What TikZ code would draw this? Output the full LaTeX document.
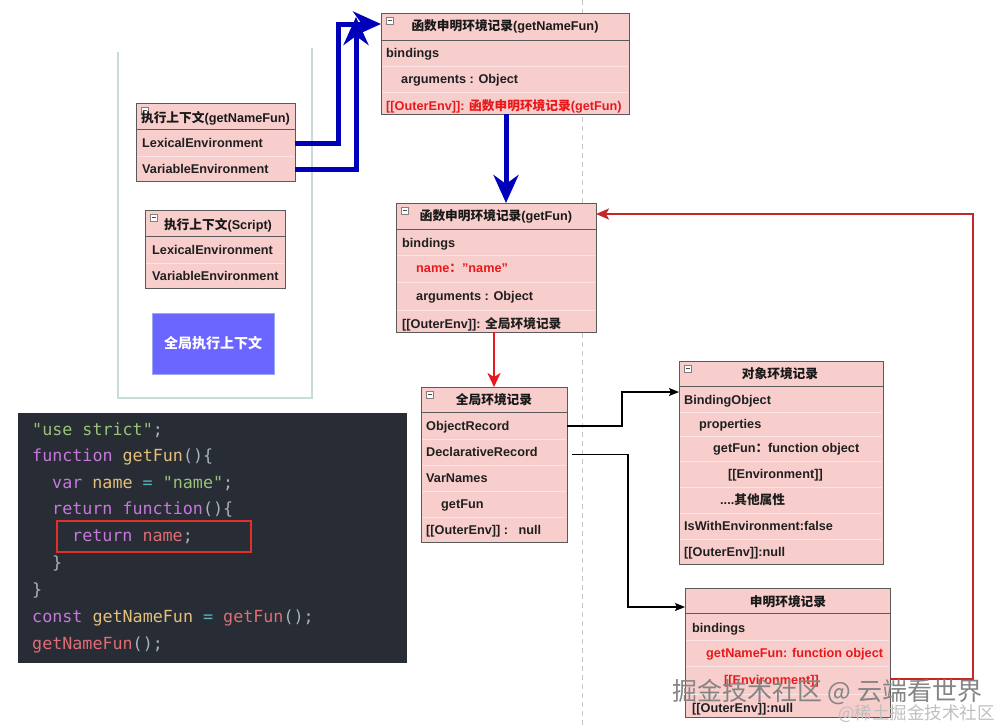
\documentclass[tikz,border=0pt]{standalone}
\usepackage{fontspec}
\setmainfont{Liberation Sans}
\newfontfamily\cjk{Noto Sans CJK SC}
\newfontfamily\codefont{DejaVu Sans Mono}
\usetikzlibrary{arrows.meta}
\definecolor{boxfill}{HTML}{F8CECC}
\definecolor{boxline}{HTML}{5A5A5A}
\definecolor{sepline}{HTML}{FBE4E3}
\definecolor{deepblue}{HTML}{0000BB}
\definecolor{brightred}{HTML}{E8191C}
\definecolor{loopred}{HTML}{C0282A}
\definecolor{txtred}{HTML}{E8191C}
\definecolor{ctnline}{HTML}{C6DCDA}
\definecolor{codebg}{HTML}{282C34}
\definecolor{ckw}{HTML}{C678DD}
\definecolor{cfn}{HTML}{E5C07B}
\definecolor{cstr}{HTML}{98C379}
\definecolor{cop}{HTML}{56B6C2}
\definecolor{crd}{HTML}{E06C75}
\definecolor{cpl}{HTML}{ABB2BF}
\definecolor{hfill}{HTML}{6B66FF}
\definecolor{hline}{HTML}{9AA8F0}
\definecolor{dashgray}{HTML}{C8C8C8}
\newcommand\cKw[1]{\textcolor{ckw}{#1}}
\newcommand\cFn[1]{\textcolor{cfn}{#1}}
\newcommand\cStr[1]{\textcolor{cstr}{#1}}
\newcommand\cOp[1]{\textcolor{cop}{#1}}
\newcommand\cRd[1]{\textcolor{crd}{#1}}
\newcommand\cPl[1]{\textcolor{cpl}{#1}}
\tikzset{
  recbox/.style={draw=boxline, fill=boxfill, line width=1pt, inner sep=0pt, outer sep=0pt},
  hdrline/.style={draw=boxline, line width=1pt},
  sepl/.style={draw=sepline, line width=0.8pt},
  iconbox/.style={draw=gray, fill=white, line width=0.6pt},
  iconbar/.style={draw=black!70, line width=0.8pt},
  rowtxt/.style={anchor=base west, inner sep=0pt, font=\fontsize{12.7}{14}\selectfont\bfseries, text=black!88},
  redtxt/.style={rowtxt, text=txtred},
  hdrtxt/.style={anchor=base, inner sep=0pt, font=\fontsize{12.7}{14}\selectfont\bfseries, text=black!90},
  codetxt/.style={anchor=base west, inner sep=0pt, font=\codefont\fontsize{16.7}{18}\selectfont, text=cpl},
  bluearr/.style={draw=deepblue, line width=5pt, -{Stealth[length=28pt,width=25pt,inset=9pt]}},
  redarr/.style={draw=brightred, line width=2.5pt, -{Stealth[length=14pt,width=13pt,inset=4pt]}},
  looparr/.style={draw=loopred, line width=2pt, -{Stealth[length=13pt,width=11pt,inset=3pt]}},
  blkarr/.style={draw=black, line width=1.2pt, -{Stealth[length=10pt,width=8pt,inset=2pt]}},
  ctn/.style={draw=ctnline, line width=1.2pt},
  dashl/.style={draw=dashgray, line width=0.8pt, dash pattern=on 5pt off 4pt},
}
\newcommand\mkrec[6]{%
  \node[recbox, minimum width={(#4-#2)*1pt}, minimum height={(#5-#3)*1pt}] (#1) at ({(#2+#4)/2},{(#3+#5)/2}) {};
  \draw[hdrline] (#2,#6) -- (#4,#6);
}
\newcommand\mkicon[2]{%
  \draw[iconbox] ({#1+5},{#2+4}) rectangle ({#1+12},{#2+11});
  \draw[iconbar] ({#1+6.5},{#2+7.5}) -- ({#1+10.5},{#2+7.5});
}
\newcommand\myrow[5]{\node[#1] (#2) at (#3,{#4+4.5}) {#5};}
\begin{document}
\begin{tikzpicture}[x=1pt,y=-1pt]
\fill[white] (0,0) rectangle (1004,728);
\useasboundingbox (0,0) rectangle (1004,728);

% background dashed guide
\draw[dashl] (582,0) -- (582,728);

% container of execution contexts
\draw[ctn] (118,52) -- (118,398) -- (312,398) -- (312,48);

% ---------- Box F: 执行上下文(getNameFun)
\mkrec{F}{136}{103}{295}{181}{129}
\foreach \yy in {156} \draw[sepl] (137,\yy) -- (294,\yy);
\mkicon{136}{103}
\node[hdrtxt] (Fh) at (215.5,122.5) {{\cjk 执行上下文}(getNameFun)};
\myrow{rowtxt}{Fr1}{142}{143}{LexicalEnvironment}
\myrow{rowtxt}{Fr2}{142}{169}{VariableEnvironment}

% ---------- Box G: 执行上下文(Script)
\mkrec{G}{145}{210}{285}{288}{236}
\foreach \yy in {263} \draw[sepl] (146,\yy) -- (284,\yy);
\mkicon{145}{210}
\node[hdrtxt] (Gh) at (218,229.5) {{\cjk 执行上下文}(Script)};
\myrow{rowtxt}{Gr1}{152}{250}{LexicalEnvironment}
\myrow{rowtxt}{Gr2}{152}{276}{VariableEnvironment}

% ---------- Box H: 全局执行上下文
\node[draw=hline, fill=hfill, line width=1pt, minimum width=122pt, minimum height=61pt, inner sep=0pt,
      font=\cjk\fontsize{14}{16}\selectfont\bfseries, text=white] (H) at (213,343.5) {全局执行上下文};

% ---------- Box A: 函数申明环境记录(getNameFun)
\mkrec{A}{381}{13}{629}{114}{40}
\foreach \yy in {66,92} \draw[sepl] (382,\yy) -- (628,\yy);
\mkicon{381}{13}
\node[hdrtxt] (Ah) at (505,30.5) {{\cjk 函数申明环境记录}(getNameFun)};
\myrow{rowtxt}{Ar1}{386}{53}{bindings}
\myrow{rowtxt}{Ar2}{401}{79}{arguments : Object}
\myrow{redtxt}{Ar3}{386}{106}{[[OuterEnv]]: {\cjk 函数申明环境记录}(getFun)}

% ---------- Box B: 函数申明环境记录(getFun)
\mkrec{B}{396}{203}{596}{332}{229}
\foreach \yy in {255,282,310} \draw[sepl] (397,\yy) -- (595,\yy);
\mkicon{396}{203}
\node[hdrtxt] (Bh) at (496,220.5) {{\cjk 函数申明环境记录}(getFun)};
\myrow{rowtxt}{Br1}{402}{243}{bindings}
\myrow{redtxt}{Br2}{416}{268}{name{\cjk ：}"name"}
\myrow{rowtxt}{Br3}{416}{296}{arguments : Object}
\myrow{rowtxt}{Br4}{402}{324}{[[OuterEnv]]: {\cjk 全局环境记录}}

% ---------- Box C: 全局环境记录
\mkrec{C}{421}{387}{567}{542}{412}
\foreach \yy in {439,465,491,517} \draw[sepl] (422,\yy) -- (566,\yy);
\mkicon{421}{387}
\node[hdrtxt] (Ch) at (494,404.5) {{\cjk 全局环境记录}};
\myrow{rowtxt}{Cr1}{426}{426}{ObjectRecord}
\myrow{rowtxt}{Cr2}{426}{452}{DeclarativeRecord}
\myrow{rowtxt}{Cr3}{426}{478}{VarNames}
\myrow{rowtxt}{Cr4}{441}{504}{getFun}
\myrow{rowtxt}{Cr5}{426}{530}{[[OuterEnv]] :\ \ \ null}

% ---------- Box D: 对象环境记录
\mkrec{D}{679}{361}{883}{564}{386}
\foreach \yy in {412,436,461,487,513,539} \draw[sepl] (680,\yy) -- (882,\yy);
\mkicon{679}{361}
\node[hdrtxt] (Dh) at (780,378.5) {{\cjk 对象环境记录}};
\myrow{rowtxt}{Dr1}{684}{400}{BindingObject}
\myrow{rowtxt}{Dr2}{699}{424}{properties}
\myrow{rowtxt}{Dr3}{713}{448}{getFun{\cjk ：}function object}
\myrow{rowtxt}{Dr4}{728}{474}{[[Environment]]}
\myrow{rowtxt}{Dr5}{720}{500}{....{\cjk 其他属性}}
\myrow{rowtxt}{Dr6}{684}{526}{IsWithEnvironment:false}
\myrow{rowtxt}{Dr7}{684}{552}{[[OuterEnv]]:null}

% ---------- Box E: 申明环境记录
\mkrec{E}{685}{588}{890}{717}{613}
\foreach \yy in {640,666,694} \draw[sepl] (686,\yy) -- (889,\yy);
\node[hdrtxt] (Eh) at (788,606.5) {{\cjk 申明环境记录}};
\myrow{rowtxt}{Er1}{692}{628}{bindings}
\myrow{redtxt}{Er2}{706}{653}{getNameFun: function object}
\myrow{redtxt}{Er3}{724}{680}{[[Environment]]}
\myrow{rowtxt}{Er4}{692}{708}{[[OuterEnv]]:null}

% ---------- connectors
\coordinate (kLex) at (338,24);
\coordinate (kVar) at (356,17);
\draw[bluearr] ([yshift=4.5pt]F.east |- Fr1.base) -| (kLex) -- (A.west |- kLex);
\draw[bluearr] ([yshift=4.5pt]F.east |- Fr2.base) -| (kVar);
\draw[bluearr] (A.south -| 506,0) -- (506,0 |- B.north);
\draw[redarr] (B.south -| 494,0) -- (494,0 |- C.north);
\coordinate (kObj) at (622,392);
\draw[blkarr] ([yshift=4.5pt]C.east |- Cr1.base) -| (kObj) -- (D.west |- kObj);
\coordinate (kDec) at (628,607);
\draw[blkarr] ([xshift=5pt,yshift=2pt]C.east |- Cr2.base) -| (kDec) -- (E.west |- kDec);
\coordinate (kLoop) at (973,214);
\draw[looparr] ([yshift=6pt]E.east |- Er3.base) -| (kLoop) -- (B.east |- kLoop);

% ---------- code block
\node[fill=codebg, minimum width=389pt, minimum height=250pt, inner sep=0pt] (code) at (212.5,538) {};
\node[codetxt] (c1) at (32,435) {\cStr{"use strict"}\cPl{;}};
\node[codetxt] (c2) at (32,461) {\cKw{function} \cFn{getFun}\cPl{()\{}};
\node[codetxt] (c3) at (52,488) {\cKw{var} \cFn{name} \cOp{=} \cStr{"name"}\cPl{;}};
\node[codetxt] (c4) at (52,514) {\cKw{return} \cKw{function}\cPl{()\{}};
\node[codetxt] (c5) at (72,541) {\cKw{return} \cRd{name}\cPl{;}};
\node[codetxt] (c6) at (52,568) {\cPl{\}}};
\node[codetxt] (c7) at (32,595) {\cPl{\}}};
\node[codetxt] (c8) at (32,622) {\cKw{const} \cFn{getNameFun} \cOp{=} \cRd{getFun}\cPl{();}};
\node[codetxt] (c9) at (32,649) {\cRd{getNameFun}\cPl{();}};
\node[draw={rgb,255:red,224;green,48;blue,42}, line width=2pt, minimum width=194pt, minimum height=31pt, inner sep=0pt] (hl) at (154,536.5) {};

% ---------- watermark
\node[anchor=base west, inner sep=0pt, font=\cjk\fontsize{25}{28}\selectfont, text=black!48] (wm1) at (672,700) {掘金技术社区 @ 云端看世界};
\node[anchor=base west, inner sep=0pt, font=\cjk\fontsize{17.5}{20}\selectfont, text=black!25] (wm2) at (838,719) {@稀土掘金技术社区};
\end{tikzpicture}
\end{document}
